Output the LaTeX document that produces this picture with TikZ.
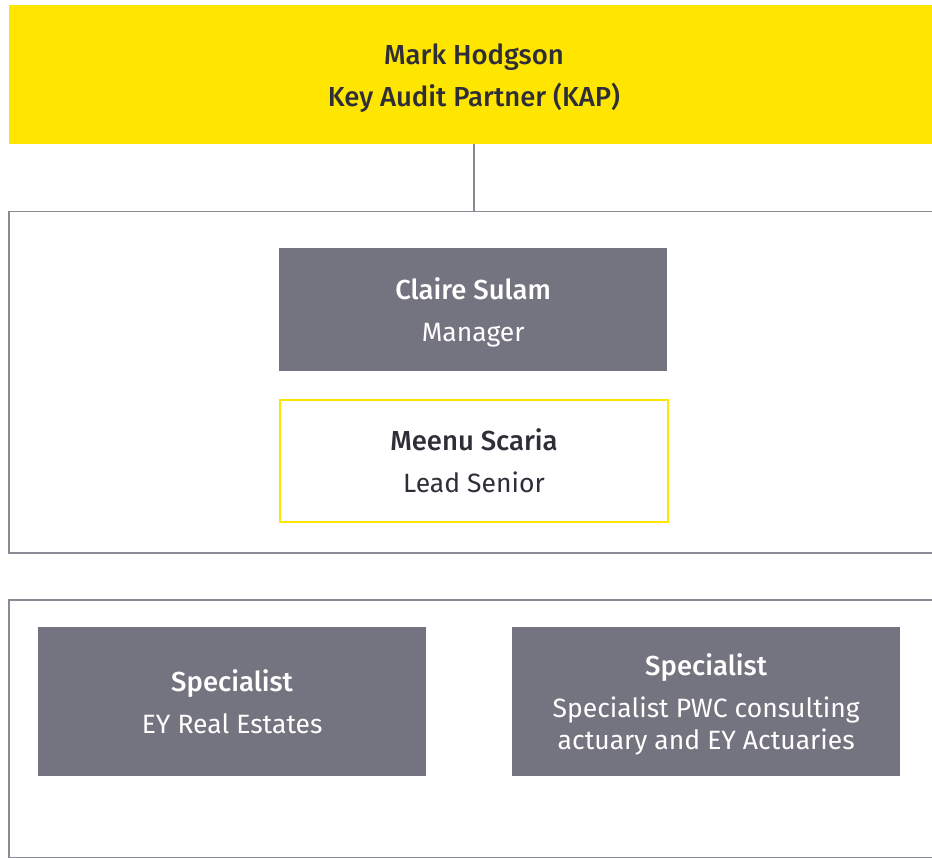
\documentclass[tikz,border=0pt]{standalone}
\usepackage{fontspec}
\setmainfont{Fira Sans}[BoldFont={Fira Sans Medium}]
\definecolor{eyyellow}{HTML}{FFE600}
\definecolor{eygrey}{HTML}{747480}
\definecolor{eyframe}{HTML}{8A8A94}
\definecolor{eydark}{HTML}{2E2E38}
\newcommand{\nm}[1]{{\fontsize{27.5}{32}\selectfont\textbf{#1}}}
\begin{document}
\begin{tikzpicture}[x=1pt,y=-1pt,
  txt/.style={font=\fontsize{26.5}{32}\selectfont, align=center},
  greybox/.style={fill=eygrey, text=white, inner sep=0pt, txt},
  framebox/.style={draw=eyframe, line width=1.5pt},
  link/.style={draw=eyframe, line width=1.5pt}]
\useasboundingbox (0,0) rectangle (932,858);
\begin{scope}
\clip (0,0) rectangle (932,858);
% yellow header
\node[fill=eyyellow, text=eydark, inner sep=0pt, minimum width=930pt, minimum height=139pt, anchor=north west, txt] (kap) at (9,5) {};
\node[txt, text=eydark] (kaptext) at (474,78) {\nm{Mark Hodgson}\\[10pt]\nm{Key Audit Partner (KAP)}};
% frames
\node[framebox, minimum width=940pt, minimum height=341pt, anchor=north west, inner sep=0pt] (team) at (8,211) {};
\node[framebox, minimum width=940pt, minimum height=258pt, anchor=north west, inner sep=0pt] (spec) at (8,599) {};
\end{scope}
\draw[link] (kap.south -| 474,0) -- (team.north -| 474,0);
% team
\node[greybox, minimum width=388pt, minimum height=123pt, anchor=north west] (claire) at (279,248) {};
\node[txt, text=white] at ([yshift=-3pt]claire.center) {\nm{Claire Sulam}\\[10pt]Manager};
\node[draw=eyyellow, line width=2pt, minimum width=388pt, minimum height=122pt, anchor=north west, inner sep=0pt] (meenu) at (279,399) {};
\node[txt, text=eydark] at (meenu.center) {\nm{Meenu Scaria}\\[10pt]Lead Senior};
% specialists
\node[greybox, minimum width=388pt, minimum height=149pt, anchor=north west] (sp1) at (38,627) {};
\node[txt, text=white] at (sp1.center) {\nm{Specialist}\\[10pt]EY Real Estates};
\node[greybox, minimum width=388pt, minimum height=149pt, anchor=north west] (sp2) at (512,627) {};
\node[txt, text=white] at ([yshift=-2.5pt]sp2.center) {\nm{Specialist}\\[10pt]Specialist PWC consulting\\actuary and EY Actuaries};
\end{tikzpicture}
\end{document}
